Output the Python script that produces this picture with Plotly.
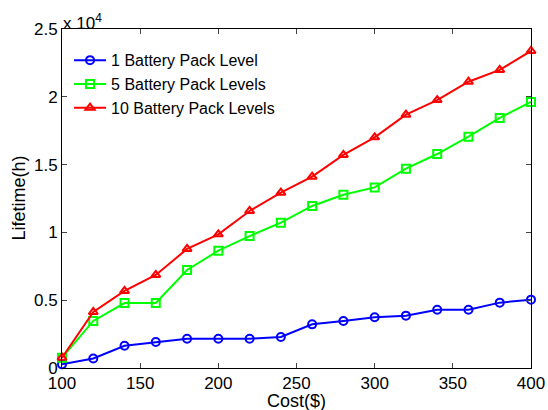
import plotly.graph_objects as go

cost = [100, 120, 140, 160, 180, 200, 220, 240, 260, 280, 300, 320, 340, 360, 380, 400]
level1 = [270, 700, 1640, 1920, 2160, 2160, 2160, 2290, 3220, 3470, 3740, 3860, 4300, 4300, 4820, 5040]
level5 = [760, 3470, 4790, 4790, 7230, 8650, 9730, 10720, 11950, 12780, 13320, 14700, 15780, 17060, 18440, 19620]
level10 = [760, 4130, 5680, 6860, 8780, 9860, 11580, 12930, 14110, 15710, 17010, 18680, 19760, 21110, 21980, 23380]

names = ["1 Battery Pack Level", "5 Battery Pack Levels", "10 Battery Pack Levels"]
ytick_vals = [0, 5000, 10000, 15000, 20000, 25000]
ytick_text = ["0", "0.5", "1", "1.5", "2", "2.5"]
xtick_vals = [100, 150, 200, 250, 300, 350, 400]

FONT = "Liberation Sans, Arial, sans-serif"

fig = go.Figure()
series = [
    (level1, "#0000ff", "circle-open"),
    (level5, "#00ff00", "square-open"),
    (level10, "#ff0000", "triangle-up-open"),
]
for (vals, color, sym), name in zip(series, names):
    fig.add_trace(go.Scatter(
        x=cost, y=vals, name=name, mode="lines+markers",
        line=dict(color=color, width=2),
        marker=dict(symbol=sym, size=8, color=color, line=dict(color=color, width=2)),
        cliponaxis=False,
    ))

fig.update_layout(
    width=548, height=410,
    margin=dict(l=62, r=17, t=29, b=42),
    paper_bgcolor="white", plot_bgcolor="white",
    font=dict(family=FONT, size=17, color="black"),
    showlegend=True,
    legend=dict(x=0.015, y=0.958, xanchor="left", yanchor="top",
                bgcolor="rgba(0,0,0,0)", borderwidth=0,
                font=dict(size=16), tracegroupgap=0, itemwidth=32),
    xaxis=dict(range=[100, 400], tickvals=xtick_vals, ticks="inside", ticklen=5,
               showline=True, linecolor="black", linewidth=1, mirror="allticks",
               showgrid=False, zeroline=False, tickfont=dict(size=17),
               automargin=False),
    yaxis=dict(range=[0, 25000], tickvals=ytick_vals, ticktext=ytick_text,
               ticks="inside", ticklen=5, showline=True, linecolor="black",
               linewidth=1, mirror="allticks", showgrid=False, zeroline=False,
               tickfont=dict(size=17), automargin=False),
    annotations=[
        dict(text="x 10<sup>4</sup>", xref="paper", yref="paper",
             x=0, y=1, xanchor="left", yanchor="bottom",
             showarrow=False, font=dict(size=17), xshift=-1, yshift=-6),
        dict(text="Cost($)", xref="paper", yref="paper", x=0.5, y=0,
             xanchor="center", yanchor="top", showarrow=False,
             font=dict(size=18), yshift=-21),
        dict(text="Lifetime(h)", xref="paper", yref="paper", x=0, y=0.5,
             xanchor="center", yanchor="middle", textangle=-90, showarrow=False,
             font=dict(size=18), xshift=-44),
    ],
)

fig.write_html("out.html", config={"displayModeBar": False},
               post_script="document.body.style.margin='0';document.body.style.overflow='hidden';")
